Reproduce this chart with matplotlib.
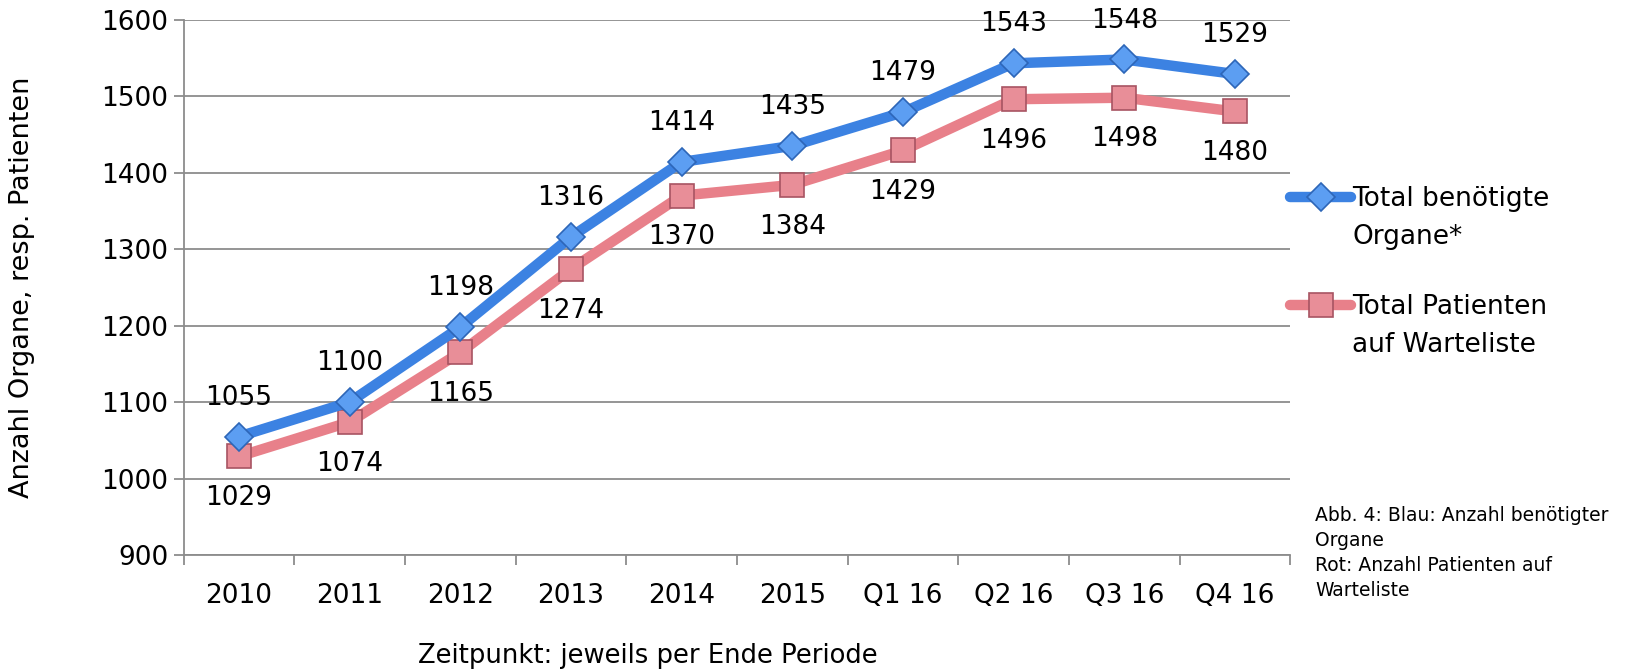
import matplotlib
matplotlib.use("Agg")
import matplotlib.pyplot as plt

periods = ["2010", "2011", "2012", "2013", "2014", "2015", "Q1 16", "Q2 16", "Q3 16", "Q4 16"]
organe = [1055, 1100, 1198, 1316, 1414, 1435, 1479, 1543, 1548, 1529]
patienten = [1029, 1074, 1165, 1274, 1370, 1384, 1429, 1496, 1498, 1480]

blue = "#3C82E2"
red = "#E8808A"
fs = 19

plt.rcParams["font.family"] = ["DejaVu Sans"]

fig = plt.figure(figsize=(16.27, 6.72), dpi=100)
ax = fig.add_axes([0.1129, 0.174, 0.793 - 0.1129, 0.9707 - 0.174])

x = list(range(len(periods)))
ax.plot(x, organe, color=blue, lw=7.5, marker="D", markersize=14,
        markerfacecolor="#5C9EF2", markeredgecolor="#2D66B8", markeredgewidth=1.2,
        label="Total benötigte\nOrgane*", zorder=4, solid_capstyle="round")
ax.plot(x, patienten, color=red, lw=7.5, marker="s", markersize=17,
        markerfacecolor="#E88E98", markeredgecolor="#A85462", markeredgewidth=1.2,
        label="Total Patienten\nauf Warteliste", zorder=3, solid_capstyle="round")

# value labels: blue above the line, red below
for xi, v in zip(x, organe):
    ax.annotate(str(v), (xi, v), xytext=(0, 28), textcoords="offset points",
                ha="center", va="center", fontsize=fs)
for xi, v in zip(x, patienten):
    ax.annotate(str(v), (xi, v), xytext=(0, -30), textcoords="offset points",
                ha="center", va="center", fontsize=fs)

ax.set_xlim(-0.5, len(periods) - 0.5)
ax.set_ylim(900, 1600)
ax.set_yticks(range(900, 1601, 100))
ax.set_xticks(x)
ax.set_xticklabels(periods)
ax.set_xticks([i - 0.5 for i in range(len(periods) + 1)], minor=True)
ax.tick_params(axis="x", which="major", length=0, pad=20, labelsize=fs)
ax.tick_params(axis="x", which="minor", length=7, width=1.3, color="#8c8c8c", direction="out")
ax.tick_params(axis="y", length=7, width=1.3, color="#8c8c8c", pad=4, labelsize=fs)

ax.yaxis.grid(True, color="#8c8c8c", lw=1.3)
ax.set_axisbelow(True)
for s in ["top", "right"]:
    ax.spines[s].set_visible(False)
for s in ["left", "bottom"]:
    ax.spines[s].set_color("#8c8c8c")
    ax.spines[s].set_linewidth(1.3)

ax.set_ylabel("Anzahl Organe, resp. Patienten", fontsize=19.5)
ax.yaxis.set_label_coords(-0.134, 0.5)
fig.text(648 / 1627, 1 - 656 / 672, "Zeitpunkt: jeweils per Ende Periode",
         ha="center", va="center", fontsize=18.6)

leg = ax.legend(loc="upper left", bbox_to_anchor=(1.0, 0.689), frameon=False,
                fontsize=fs, handlelength=2.3, handleheight=1.2, handletextpad=0.05,
                labelspacing=1.68, borderpad=0, borderaxespad=0)
for t in leg.get_texts():
    t.set_linespacing(1.58)
# line the legend handles up with the first line of each label
for col in leg._legend_handle_box.get_children():
    for row in col.get_children():
        row.align = "top"

fig.text(1315 / 1627, 1 - 506 / 672,
         "Abb. 4: Blau: Anzahl benötigter\nOrgane\nRot: Anzahl Patienten auf\nWarteliste",
         ha="left", va="top", fontsize=13.5, linespacing=1.39)

fig.savefig("out.png", dpi=100)
